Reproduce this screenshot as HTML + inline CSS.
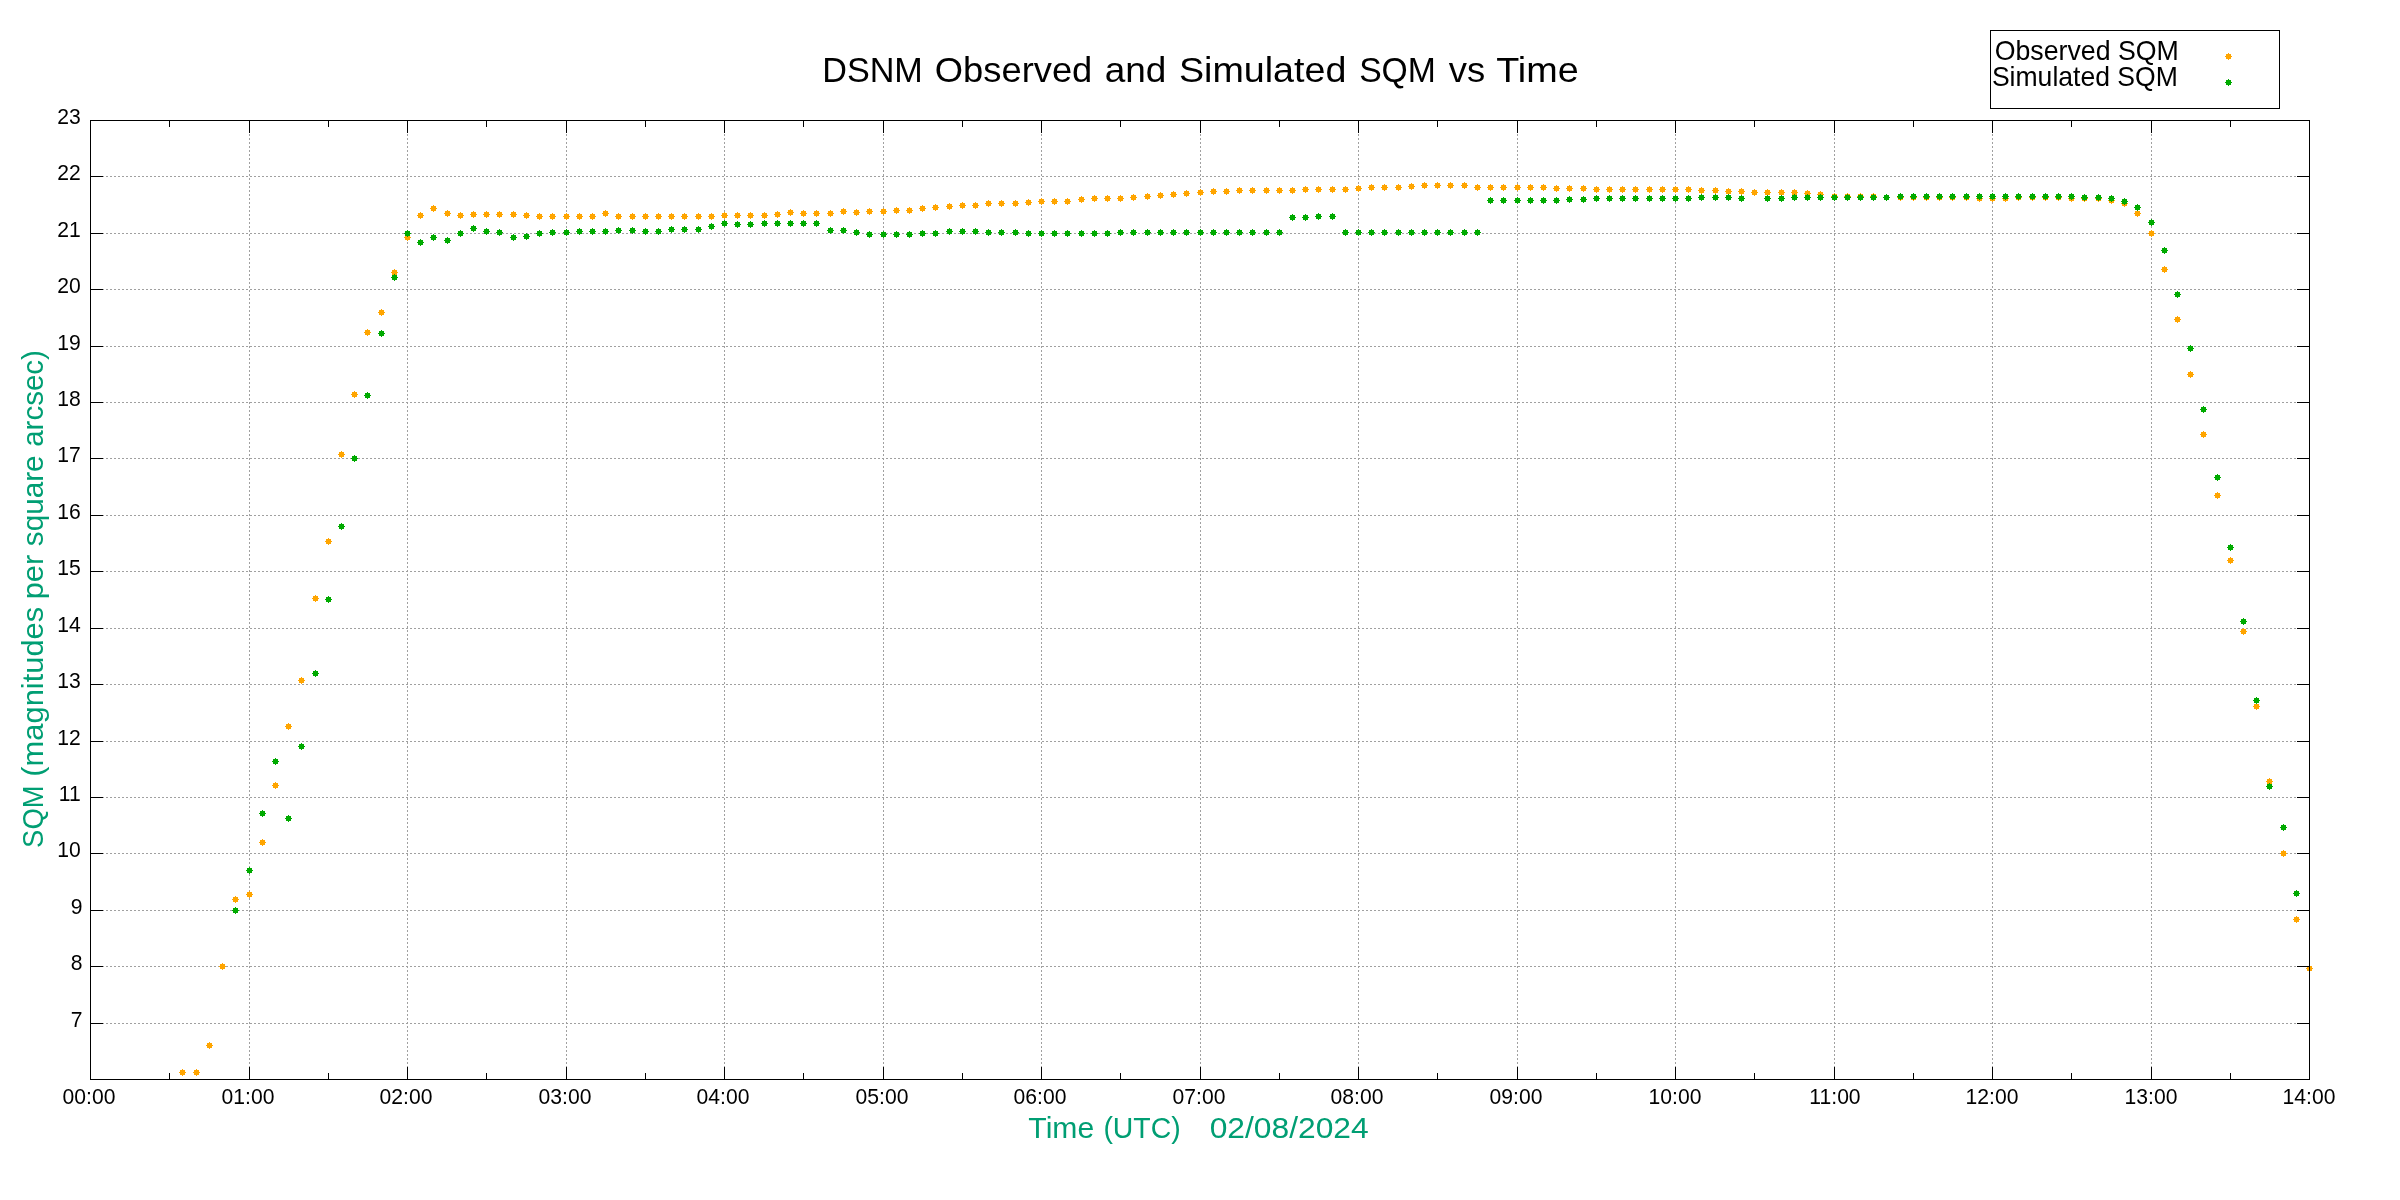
<!DOCTYPE html>
<html><head><meta charset="utf-8"><title>DSNM Observed and Simulated SQM vs Time</title>
<style>html,body{margin:0;padding:0;background:#fff;width:2400px;height:1200px;overflow:hidden}svg{display:block}text{font-family:"Liberation Sans",sans-serif}body>svg{will-change:transform}</style>
</head><body>
<svg width="2400" height="1200" viewBox="0 0 2400 1200">
<rect width="2400" height="1200" fill="#fff"/>
<g shape-rendering="crispEdges">
<path d="M90 1023.5H2310M90 966.5H2310M90 910.5H2310M90 853.5H2310M90 797.5H2310M90 741.5H2310M90 684.5H2310M90 628.5H2310M90 571.5H2310M90 515.5H2310M90 458.5H2310M90 402.5H2310M90 346.5H2310M90 289.5H2310M90 233.5H2310M90 176.5H2310" stroke="#a0a0a0" stroke-width="1" stroke-dasharray="2 2" fill="none"/>
<path d="M249.5 1080V120M407.5 1080V120M566.5 1080V120M724.5 1080V120M883.5 1080V120M1041.5 1080V120M1200.5 1080V120M1358.5 1080V120M1517.5 1080V120M1675.5 1080V120M1834.5 1080V120M1992.5 1080V120M2151.5 1080V120" stroke="#a0a0a0" stroke-width="1" stroke-dasharray="2 2" fill="none"/>
<path d="M1990 30H2280v1H1990zM1990 108H2280v1H1990zM1990 30h1V109h-1zM2279 30h1V109h-1z" fill="#000"/>
<path d="M180 1070h5v5h-5zM182 1069h1v7h-1zM179 1072h7v1h-7zM194 1070h5v5h-5zM196 1069h1v7h-1zM193 1072h7v1h-7zM207 1043h5v5h-5zM209 1042h1v7h-1zM206 1045h7v1h-7zM220 964h5v5h-5zM222 963h1v7h-1zM219 966h7v1h-7zM233 897h5v5h-5zM235 896h1v7h-1zM232 899h7v1h-7zM247 892h5v5h-5zM249 891h1v7h-1zM246 894h7v1h-7zM260 840h5v5h-5zM262 839h1v7h-1zM259 842h7v1h-7zM273 783h5v5h-5zM275 782h1v7h-1zM272 785h7v1h-7zM286 724h5v5h-5zM288 723h1v7h-1zM285 726h7v1h-7zM299 678h5v5h-5zM301 677h1v7h-1zM298 680h7v1h-7zM313 596h5v5h-5zM315 595h1v7h-1zM312 598h7v1h-7zM326 539h5v5h-5zM328 538h1v7h-1zM325 541h7v1h-7zM339 452h5v5h-5zM341 451h1v7h-1zM338 454h7v1h-7zM352 392h5v5h-5zM354 391h1v7h-1zM351 394h7v1h-7zM365 330h5v5h-5zM367 329h1v7h-1zM364 332h7v1h-7zM379 310h5v5h-5zM381 309h1v7h-1zM378 312h7v1h-7zM392 270h5v5h-5zM394 269h1v7h-1zM391 272h7v1h-7zM405 235h5v5h-5zM407 234h1v7h-1zM404 237h7v1h-7zM418 213h5v5h-5zM420 212h1v7h-1zM417 215h7v1h-7zM431 206h5v5h-5zM433 205h1v7h-1zM430 208h7v1h-7zM445 211h5v5h-5zM447 210h1v7h-1zM444 213h7v1h-7zM458 213h5v5h-5zM460 212h1v7h-1zM457 215h7v1h-7zM471 212h5v5h-5zM473 211h1v7h-1zM470 214h7v1h-7zM484 212h5v5h-5zM486 211h1v7h-1zM483 214h7v1h-7zM497 212h5v5h-5zM499 211h1v7h-1zM496 214h7v1h-7zM511 212h5v5h-5zM513 211h1v7h-1zM510 214h7v1h-7zM524 213h5v5h-5zM526 212h1v7h-1zM523 215h7v1h-7zM537 214h5v5h-5zM539 213h1v7h-1zM536 216h7v1h-7zM550 214h5v5h-5zM552 213h1v7h-1zM549 216h7v1h-7zM564 214h5v5h-5zM566 213h1v7h-1zM563 216h7v1h-7zM577 214h5v5h-5zM579 213h1v7h-1zM576 216h7v1h-7zM590 214h5v5h-5zM592 213h1v7h-1zM589 216h7v1h-7zM603 211h5v5h-5zM605 210h1v7h-1zM602 213h7v1h-7zM616 214h5v5h-5zM618 213h1v7h-1zM615 216h7v1h-7zM630 214h5v5h-5zM632 213h1v7h-1zM629 216h7v1h-7zM643 214h5v5h-5zM645 213h1v7h-1zM642 216h7v1h-7zM656 214h5v5h-5zM658 213h1v7h-1zM655 216h7v1h-7zM669 214h5v5h-5zM671 213h1v7h-1zM668 216h7v1h-7zM682 214h5v5h-5zM684 213h1v7h-1zM681 216h7v1h-7zM696 214h5v5h-5zM698 213h1v7h-1zM695 216h7v1h-7zM709 214h5v5h-5zM711 213h1v7h-1zM708 216h7v1h-7zM722 213h5v5h-5zM724 212h1v7h-1zM721 215h7v1h-7zM735 213h5v5h-5zM737 212h1v7h-1zM734 215h7v1h-7zM748 213h5v5h-5zM750 212h1v7h-1zM747 215h7v1h-7zM762 213h5v5h-5zM764 212h1v7h-1zM761 215h7v1h-7zM775 212h5v5h-5zM777 211h1v7h-1zM774 214h7v1h-7zM788 210h5v5h-5zM790 209h1v7h-1zM787 212h7v1h-7zM801 211h5v5h-5zM803 210h1v7h-1zM800 213h7v1h-7zM814 211h5v5h-5zM816 210h1v7h-1zM813 213h7v1h-7zM828 211h5v5h-5zM830 210h1v7h-1zM827 213h7v1h-7zM841 209h5v5h-5zM843 208h1v7h-1zM840 211h7v1h-7zM854 210h5v5h-5zM856 209h1v7h-1zM853 212h7v1h-7zM867 209h5v5h-5zM869 208h1v7h-1zM866 211h7v1h-7zM881 209h5v5h-5zM883 208h1v7h-1zM880 211h7v1h-7zM894 208h5v5h-5zM896 207h1v7h-1zM893 210h7v1h-7zM907 208h5v5h-5zM909 207h1v7h-1zM906 210h7v1h-7zM920 206h5v5h-5zM922 205h1v7h-1zM919 208h7v1h-7zM933 205h5v5h-5zM935 204h1v7h-1zM932 207h7v1h-7zM947 204h5v5h-5zM949 203h1v7h-1zM946 206h7v1h-7zM960 203h5v5h-5zM962 202h1v7h-1zM959 205h7v1h-7zM973 203h5v5h-5zM975 202h1v7h-1zM972 205h7v1h-7zM986 201h5v5h-5zM988 200h1v7h-1zM985 203h7v1h-7zM999 201h5v5h-5zM1001 200h1v7h-1zM998 203h7v1h-7zM1013 201h5v5h-5zM1015 200h1v7h-1zM1012 203h7v1h-7zM1026 200h5v5h-5zM1028 199h1v7h-1zM1025 202h7v1h-7zM1039 199h5v5h-5zM1041 198h1v7h-1zM1038 201h7v1h-7zM1052 199h5v5h-5zM1054 198h1v7h-1zM1051 201h7v1h-7zM1065 199h5v5h-5zM1067 198h1v7h-1zM1064 201h7v1h-7zM1079 197h5v5h-5zM1081 196h1v7h-1zM1078 199h7v1h-7zM1092 196h5v5h-5zM1094 195h1v7h-1zM1091 198h7v1h-7zM1105 196h5v5h-5zM1107 195h1v7h-1zM1104 198h7v1h-7zM1118 196h5v5h-5zM1120 195h1v7h-1zM1117 198h7v1h-7zM1131 195h5v5h-5zM1133 194h1v7h-1zM1130 197h7v1h-7zM1145 194h5v5h-5zM1147 193h1v7h-1zM1144 196h7v1h-7zM1158 193h5v5h-5zM1160 192h1v7h-1zM1157 195h7v1h-7zM1171 192h5v5h-5zM1173 191h1v7h-1zM1170 194h7v1h-7zM1184 191h5v5h-5zM1186 190h1v7h-1zM1183 193h7v1h-7zM1198 190h5v5h-5zM1200 189h1v7h-1zM1197 192h7v1h-7zM1211 189h5v5h-5zM1213 188h1v7h-1zM1210 191h7v1h-7zM1224 189h5v5h-5zM1226 188h1v7h-1zM1223 191h7v1h-7zM1237 188h5v5h-5zM1239 187h1v7h-1zM1236 190h7v1h-7zM1250 188h5v5h-5zM1252 187h1v7h-1zM1249 190h7v1h-7zM1264 188h5v5h-5zM1266 187h1v7h-1zM1263 190h7v1h-7zM1277 188h5v5h-5zM1279 187h1v7h-1zM1276 190h7v1h-7zM1290 188h5v5h-5zM1292 187h1v7h-1zM1289 190h7v1h-7zM1303 187h5v5h-5zM1305 186h1v7h-1zM1302 189h7v1h-7zM1316 187h5v5h-5zM1318 186h1v7h-1zM1315 189h7v1h-7zM1330 187h5v5h-5zM1332 186h1v7h-1zM1329 189h7v1h-7zM1343 187h5v5h-5zM1345 186h1v7h-1zM1342 189h7v1h-7zM1356 186h5v5h-5zM1358 185h1v7h-1zM1355 188h7v1h-7zM1369 185h5v5h-5zM1371 184h1v7h-1zM1368 187h7v1h-7zM1382 185h5v5h-5zM1384 184h1v7h-1zM1381 187h7v1h-7zM1396 185h5v5h-5zM1398 184h1v7h-1zM1395 187h7v1h-7zM1409 184h5v5h-5zM1411 183h1v7h-1zM1408 186h7v1h-7zM1422 183h5v5h-5zM1424 182h1v7h-1zM1421 185h7v1h-7zM1435 183h5v5h-5zM1437 182h1v7h-1zM1434 185h7v1h-7zM1448 183h5v5h-5zM1450 182h1v7h-1zM1447 185h7v1h-7zM1462 183h5v5h-5zM1464 182h1v7h-1zM1461 185h7v1h-7zM1475 185h5v5h-5zM1477 184h1v7h-1zM1474 187h7v1h-7zM1488 185h5v5h-5zM1490 184h1v7h-1zM1487 187h7v1h-7zM1501 185h5v5h-5zM1503 184h1v7h-1zM1500 187h7v1h-7zM1515 185h5v5h-5zM1517 184h1v7h-1zM1514 187h7v1h-7zM1528 185h5v5h-5zM1530 184h1v7h-1zM1527 187h7v1h-7zM1541 185h5v5h-5zM1543 184h1v7h-1zM1540 187h7v1h-7zM1554 186h5v5h-5zM1556 185h1v7h-1zM1553 188h7v1h-7zM1567 186h5v5h-5zM1569 185h1v7h-1zM1566 188h7v1h-7zM1581 186h5v5h-5zM1583 185h1v7h-1zM1580 188h7v1h-7zM1594 187h5v5h-5zM1596 186h1v7h-1zM1593 189h7v1h-7zM1607 187h5v5h-5zM1609 186h1v7h-1zM1606 189h7v1h-7zM1620 187h5v5h-5zM1622 186h1v7h-1zM1619 189h7v1h-7zM1633 187h5v5h-5zM1635 186h1v7h-1zM1632 189h7v1h-7zM1647 187h5v5h-5zM1649 186h1v7h-1zM1646 189h7v1h-7zM1660 187h5v5h-5zM1662 186h1v7h-1zM1659 189h7v1h-7zM1673 187h5v5h-5zM1675 186h1v7h-1zM1672 189h7v1h-7zM1686 187h5v5h-5zM1688 186h1v7h-1zM1685 189h7v1h-7zM1699 188h5v5h-5zM1701 187h1v7h-1zM1698 190h7v1h-7zM1713 188h5v5h-5zM1715 187h1v7h-1zM1712 190h7v1h-7zM1726 189h5v5h-5zM1728 188h1v7h-1zM1725 191h7v1h-7zM1739 189h5v5h-5zM1741 188h1v7h-1zM1738 191h7v1h-7zM1752 190h5v5h-5zM1754 189h1v7h-1zM1751 192h7v1h-7zM1765 190h5v5h-5zM1767 189h1v7h-1zM1764 192h7v1h-7zM1779 190h5v5h-5zM1781 189h1v7h-1zM1778 192h7v1h-7zM1792 190h5v5h-5zM1794 189h1v7h-1zM1791 192h7v1h-7zM1805 191h5v5h-5zM1807 190h1v7h-1zM1804 193h7v1h-7zM1818 192h5v5h-5zM1820 191h1v7h-1zM1817 194h7v1h-7zM1832 194h5v5h-5zM1834 193h1v7h-1zM1831 196h7v1h-7zM1845 194h5v5h-5zM1847 193h1v7h-1zM1844 196h7v1h-7zM1858 194h5v5h-5zM1860 193h1v7h-1zM1857 196h7v1h-7zM1871 194h5v5h-5zM1873 193h1v7h-1zM1870 196h7v1h-7zM1884 195h5v5h-5zM1886 194h1v7h-1zM1883 197h7v1h-7zM1898 195h5v5h-5zM1900 194h1v7h-1zM1897 197h7v1h-7zM1911 195h5v5h-5zM1913 194h1v7h-1zM1910 197h7v1h-7zM1924 195h5v5h-5zM1926 194h1v7h-1zM1923 197h7v1h-7zM1937 195h5v5h-5zM1939 194h1v7h-1zM1936 197h7v1h-7zM1950 195h5v5h-5zM1952 194h1v7h-1zM1949 197h7v1h-7zM1964 195h5v5h-5zM1966 194h1v7h-1zM1963 197h7v1h-7zM1977 196h5v5h-5zM1979 195h1v7h-1zM1976 198h7v1h-7zM1990 196h5v5h-5zM1992 195h1v7h-1zM1989 198h7v1h-7zM2003 196h5v5h-5zM2005 195h1v7h-1zM2002 198h7v1h-7zM2016 195h5v5h-5zM2018 194h1v7h-1zM2015 197h7v1h-7zM2030 195h5v5h-5zM2032 194h1v7h-1zM2029 197h7v1h-7zM2043 195h5v5h-5zM2045 194h1v7h-1zM2042 197h7v1h-7zM2056 195h5v5h-5zM2058 194h1v7h-1zM2055 197h7v1h-7zM2069 196h5v5h-5zM2071 195h1v7h-1zM2068 198h7v1h-7zM2082 196h5v5h-5zM2084 195h1v7h-1zM2081 198h7v1h-7zM2096 196h5v5h-5zM2098 195h1v7h-1zM2095 198h7v1h-7zM2109 198h5v5h-5zM2111 197h1v7h-1zM2108 200h7v1h-7zM2122 201h5v5h-5zM2124 200h1v7h-1zM2121 203h7v1h-7zM2135 211h5v5h-5zM2137 210h1v7h-1zM2134 213h7v1h-7zM2149 231h5v5h-5zM2151 230h1v7h-1zM2148 233h7v1h-7zM2162 267h5v5h-5zM2164 266h1v7h-1zM2161 269h7v1h-7zM2175 317h5v5h-5zM2177 316h1v7h-1zM2174 319h7v1h-7zM2188 372h5v5h-5zM2190 371h1v7h-1zM2187 374h7v1h-7zM2201 432h5v5h-5zM2203 431h1v7h-1zM2200 434h7v1h-7zM2215 493h5v5h-5zM2217 492h1v7h-1zM2214 495h7v1h-7zM2228 558h5v5h-5zM2230 557h1v7h-1zM2227 560h7v1h-7zM2241 629h5v5h-5zM2243 628h1v7h-1zM2240 631h7v1h-7zM2254 704h5v5h-5zM2256 703h1v7h-1zM2253 706h7v1h-7zM2267 779h5v5h-5zM2269 778h1v7h-1zM2266 781h7v1h-7zM2281 851h5v5h-5zM2283 850h1v7h-1zM2280 853h7v1h-7zM2294 917h5v5h-5zM2296 916h1v7h-1zM2293 919h7v1h-7zM2307 966h5v5h-5zM2309 965h1v7h-1zM2306 968h7v1h-7z" fill="#ffa500"/>
<path d="M233 908h5v5h-5zM235 907h1v7h-1zM232 910h7v1h-7zM247 868h5v5h-5zM249 867h1v7h-1zM246 870h7v1h-7zM260 811h5v5h-5zM262 810h1v7h-1zM259 813h7v1h-7zM273 759h5v5h-5zM275 758h1v7h-1zM272 761h7v1h-7zM286 816h5v5h-5zM288 815h1v7h-1zM285 818h7v1h-7zM299 744h5v5h-5zM301 743h1v7h-1zM298 746h7v1h-7zM313 671h5v5h-5zM315 670h1v7h-1zM312 673h7v1h-7zM326 597h5v5h-5zM328 596h1v7h-1zM325 599h7v1h-7zM339 524h5v5h-5zM341 523h1v7h-1zM338 526h7v1h-7zM352 456h5v5h-5zM354 455h1v7h-1zM351 458h7v1h-7zM365 393h5v5h-5zM367 392h1v7h-1zM364 395h7v1h-7zM379 331h5v5h-5zM381 330h1v7h-1zM378 333h7v1h-7zM392 275h5v5h-5zM394 274h1v7h-1zM391 277h7v1h-7zM405 231h5v5h-5zM407 230h1v7h-1zM404 233h7v1h-7zM418 240h5v5h-5zM420 239h1v7h-1zM417 242h7v1h-7zM431 235h5v5h-5zM433 234h1v7h-1zM430 237h7v1h-7zM445 238h5v5h-5zM447 237h1v7h-1zM444 240h7v1h-7zM458 231h5v5h-5zM460 230h1v7h-1zM457 233h7v1h-7zM471 226h5v5h-5zM473 225h1v7h-1zM470 228h7v1h-7zM484 229h5v5h-5zM486 228h1v7h-1zM483 231h7v1h-7zM497 230h5v5h-5zM499 229h1v7h-1zM496 232h7v1h-7zM511 235h5v5h-5zM513 234h1v7h-1zM510 237h7v1h-7zM524 234h5v5h-5zM526 233h1v7h-1zM523 236h7v1h-7zM537 231h5v5h-5zM539 230h1v7h-1zM536 233h7v1h-7zM550 230h5v5h-5zM552 229h1v7h-1zM549 232h7v1h-7zM564 230h5v5h-5zM566 229h1v7h-1zM563 232h7v1h-7zM577 229h5v5h-5zM579 228h1v7h-1zM576 231h7v1h-7zM590 229h5v5h-5zM592 228h1v7h-1zM589 231h7v1h-7zM603 229h5v5h-5zM605 228h1v7h-1zM602 231h7v1h-7zM616 228h5v5h-5zM618 227h1v7h-1zM615 230h7v1h-7zM630 228h5v5h-5zM632 227h1v7h-1zM629 230h7v1h-7zM643 229h5v5h-5zM645 228h1v7h-1zM642 231h7v1h-7zM656 229h5v5h-5zM658 228h1v7h-1zM655 231h7v1h-7zM669 227h5v5h-5zM671 226h1v7h-1zM668 229h7v1h-7zM682 227h5v5h-5zM684 226h1v7h-1zM681 229h7v1h-7zM696 227h5v5h-5zM698 226h1v7h-1zM695 229h7v1h-7zM709 224h5v5h-5zM711 223h1v7h-1zM708 226h7v1h-7zM722 221h5v5h-5zM724 220h1v7h-1zM721 223h7v1h-7zM735 222h5v5h-5zM737 221h1v7h-1zM734 224h7v1h-7zM748 222h5v5h-5zM750 221h1v7h-1zM747 224h7v1h-7zM762 221h5v5h-5zM764 220h1v7h-1zM761 223h7v1h-7zM775 221h5v5h-5zM777 220h1v7h-1zM774 223h7v1h-7zM788 221h5v5h-5zM790 220h1v7h-1zM787 223h7v1h-7zM801 221h5v5h-5zM803 220h1v7h-1zM800 223h7v1h-7zM814 221h5v5h-5zM816 220h1v7h-1zM813 223h7v1h-7zM828 228h5v5h-5zM830 227h1v7h-1zM827 230h7v1h-7zM841 228h5v5h-5zM843 227h1v7h-1zM840 230h7v1h-7zM854 230h5v5h-5zM856 229h1v7h-1zM853 232h7v1h-7zM867 232h5v5h-5zM869 231h1v7h-1zM866 234h7v1h-7zM881 232h5v5h-5zM883 231h1v7h-1zM880 234h7v1h-7zM894 232h5v5h-5zM896 231h1v7h-1zM893 234h7v1h-7zM907 232h5v5h-5zM909 231h1v7h-1zM906 234h7v1h-7zM920 231h5v5h-5zM922 230h1v7h-1zM919 233h7v1h-7zM933 231h5v5h-5zM935 230h1v7h-1zM932 233h7v1h-7zM947 229h5v5h-5zM949 228h1v7h-1zM946 231h7v1h-7zM960 229h5v5h-5zM962 228h1v7h-1zM959 231h7v1h-7zM973 229h5v5h-5zM975 228h1v7h-1zM972 231h7v1h-7zM986 230h5v5h-5zM988 229h1v7h-1zM985 232h7v1h-7zM999 230h5v5h-5zM1001 229h1v7h-1zM998 232h7v1h-7zM1013 230h5v5h-5zM1015 229h1v7h-1zM1012 232h7v1h-7zM1026 231h5v5h-5zM1028 230h1v7h-1zM1025 233h7v1h-7zM1039 231h5v5h-5zM1041 230h1v7h-1zM1038 233h7v1h-7zM1052 231h5v5h-5zM1054 230h1v7h-1zM1051 233h7v1h-7zM1065 231h5v5h-5zM1067 230h1v7h-1zM1064 233h7v1h-7zM1079 231h5v5h-5zM1081 230h1v7h-1zM1078 233h7v1h-7zM1092 231h5v5h-5zM1094 230h1v7h-1zM1091 233h7v1h-7zM1105 231h5v5h-5zM1107 230h1v7h-1zM1104 233h7v1h-7zM1118 230h5v5h-5zM1120 229h1v7h-1zM1117 232h7v1h-7zM1131 230h5v5h-5zM1133 229h1v7h-1zM1130 232h7v1h-7zM1145 230h5v5h-5zM1147 229h1v7h-1zM1144 232h7v1h-7zM1158 230h5v5h-5zM1160 229h1v7h-1zM1157 232h7v1h-7zM1171 230h5v5h-5zM1173 229h1v7h-1zM1170 232h7v1h-7zM1184 230h5v5h-5zM1186 229h1v7h-1zM1183 232h7v1h-7zM1198 230h5v5h-5zM1200 229h1v7h-1zM1197 232h7v1h-7zM1211 230h5v5h-5zM1213 229h1v7h-1zM1210 232h7v1h-7zM1224 230h5v5h-5zM1226 229h1v7h-1zM1223 232h7v1h-7zM1237 230h5v5h-5zM1239 229h1v7h-1zM1236 232h7v1h-7zM1250 230h5v5h-5zM1252 229h1v7h-1zM1249 232h7v1h-7zM1264 230h5v5h-5zM1266 229h1v7h-1zM1263 232h7v1h-7zM1277 230h5v5h-5zM1279 229h1v7h-1zM1276 232h7v1h-7zM1290 215h5v5h-5zM1292 214h1v7h-1zM1289 217h7v1h-7zM1303 215h5v5h-5zM1305 214h1v7h-1zM1302 217h7v1h-7zM1316 214h5v5h-5zM1318 213h1v7h-1zM1315 216h7v1h-7zM1330 214h5v5h-5zM1332 213h1v7h-1zM1329 216h7v1h-7zM1343 230h5v5h-5zM1345 229h1v7h-1zM1342 232h7v1h-7zM1356 230h5v5h-5zM1358 229h1v7h-1zM1355 232h7v1h-7zM1369 230h5v5h-5zM1371 229h1v7h-1zM1368 232h7v1h-7zM1382 230h5v5h-5zM1384 229h1v7h-1zM1381 232h7v1h-7zM1396 230h5v5h-5zM1398 229h1v7h-1zM1395 232h7v1h-7zM1409 230h5v5h-5zM1411 229h1v7h-1zM1408 232h7v1h-7zM1422 230h5v5h-5zM1424 229h1v7h-1zM1421 232h7v1h-7zM1435 230h5v5h-5zM1437 229h1v7h-1zM1434 232h7v1h-7zM1448 230h5v5h-5zM1450 229h1v7h-1zM1447 232h7v1h-7zM1462 230h5v5h-5zM1464 229h1v7h-1zM1461 232h7v1h-7zM1475 230h5v5h-5zM1477 229h1v7h-1zM1474 232h7v1h-7zM1488 198h5v5h-5zM1490 197h1v7h-1zM1487 200h7v1h-7zM1501 198h5v5h-5zM1503 197h1v7h-1zM1500 200h7v1h-7zM1515 198h5v5h-5zM1517 197h1v7h-1zM1514 200h7v1h-7zM1528 198h5v5h-5zM1530 197h1v7h-1zM1527 200h7v1h-7zM1541 198h5v5h-5zM1543 197h1v7h-1zM1540 200h7v1h-7zM1554 198h5v5h-5zM1556 197h1v7h-1zM1553 200h7v1h-7zM1567 197h5v5h-5zM1569 196h1v7h-1zM1566 199h7v1h-7zM1581 197h5v5h-5zM1583 196h1v7h-1zM1580 199h7v1h-7zM1594 196h5v5h-5zM1596 195h1v7h-1zM1593 198h7v1h-7zM1607 196h5v5h-5zM1609 195h1v7h-1zM1606 198h7v1h-7zM1620 196h5v5h-5zM1622 195h1v7h-1zM1619 198h7v1h-7zM1633 196h5v5h-5zM1635 195h1v7h-1zM1632 198h7v1h-7zM1647 196h5v5h-5zM1649 195h1v7h-1zM1646 198h7v1h-7zM1660 196h5v5h-5zM1662 195h1v7h-1zM1659 198h7v1h-7zM1673 196h5v5h-5zM1675 195h1v7h-1zM1672 198h7v1h-7zM1686 196h5v5h-5zM1688 195h1v7h-1zM1685 198h7v1h-7zM1699 195h5v5h-5zM1701 194h1v7h-1zM1698 197h7v1h-7zM1713 195h5v5h-5zM1715 194h1v7h-1zM1712 197h7v1h-7zM1726 195h5v5h-5zM1728 194h1v7h-1zM1725 197h7v1h-7zM1739 196h5v5h-5zM1741 195h1v7h-1zM1738 198h7v1h-7zM1765 196h5v5h-5zM1767 195h1v7h-1zM1764 198h7v1h-7zM1779 196h5v5h-5zM1781 195h1v7h-1zM1778 198h7v1h-7zM1792 195h5v5h-5zM1794 194h1v7h-1zM1791 197h7v1h-7zM1805 195h5v5h-5zM1807 194h1v7h-1zM1804 197h7v1h-7zM1818 195h5v5h-5zM1820 194h1v7h-1zM1817 197h7v1h-7zM1832 195h5v5h-5zM1834 194h1v7h-1zM1831 197h7v1h-7zM1845 195h5v5h-5zM1847 194h1v7h-1zM1844 197h7v1h-7zM1858 195h5v5h-5zM1860 194h1v7h-1zM1857 197h7v1h-7zM1871 195h5v5h-5zM1873 194h1v7h-1zM1870 197h7v1h-7zM1884 195h5v5h-5zM1886 194h1v7h-1zM1883 197h7v1h-7zM1898 194h5v5h-5zM1900 193h1v7h-1zM1897 196h7v1h-7zM1911 194h5v5h-5zM1913 193h1v7h-1zM1910 196h7v1h-7zM1924 194h5v5h-5zM1926 193h1v7h-1zM1923 196h7v1h-7zM1937 194h5v5h-5zM1939 193h1v7h-1zM1936 196h7v1h-7zM1950 194h5v5h-5zM1952 193h1v7h-1zM1949 196h7v1h-7zM1964 194h5v5h-5zM1966 193h1v7h-1zM1963 196h7v1h-7zM1977 194h5v5h-5zM1979 193h1v7h-1zM1976 196h7v1h-7zM1990 194h5v5h-5zM1992 193h1v7h-1zM1989 196h7v1h-7zM2003 194h5v5h-5zM2005 193h1v7h-1zM2002 196h7v1h-7zM2016 194h5v5h-5zM2018 193h1v7h-1zM2015 196h7v1h-7zM2030 194h5v5h-5zM2032 193h1v7h-1zM2029 196h7v1h-7zM2043 194h5v5h-5zM2045 193h1v7h-1zM2042 196h7v1h-7zM2056 194h5v5h-5zM2058 193h1v7h-1zM2055 196h7v1h-7zM2069 194h5v5h-5zM2071 193h1v7h-1zM2068 196h7v1h-7zM2082 195h5v5h-5zM2084 194h1v7h-1zM2081 197h7v1h-7zM2096 195h5v5h-5zM2098 194h1v7h-1zM2095 197h7v1h-7zM2109 196h5v5h-5zM2111 195h1v7h-1zM2108 198h7v1h-7zM2122 199h5v5h-5zM2124 198h1v7h-1zM2121 201h7v1h-7zM2135 205h5v5h-5zM2137 204h1v7h-1zM2134 207h7v1h-7zM2149 220h5v5h-5zM2151 219h1v7h-1zM2148 222h7v1h-7zM2162 248h5v5h-5zM2164 247h1v7h-1zM2161 250h7v1h-7zM2175 292h5v5h-5zM2177 291h1v7h-1zM2174 294h7v1h-7zM2188 346h5v5h-5zM2190 345h1v7h-1zM2187 348h7v1h-7zM2201 407h5v5h-5zM2203 406h1v7h-1zM2200 409h7v1h-7zM2215 475h5v5h-5zM2217 474h1v7h-1zM2214 477h7v1h-7zM2228 545h5v5h-5zM2230 544h1v7h-1zM2227 547h7v1h-7zM2241 619h5v5h-5zM2243 618h1v7h-1zM2240 621h7v1h-7zM2254 698h5v5h-5zM2256 697h1v7h-1zM2253 700h7v1h-7zM2267 784h5v5h-5zM2269 783h1v7h-1zM2266 786h7v1h-7zM2281 825h5v5h-5zM2283 824h1v7h-1zM2280 827h7v1h-7zM2294 891h5v5h-5zM2296 890h1v7h-1zM2293 893h7v1h-7z" fill="#00aa00"/>
<path d="M2226 54h5v5h-5zM2228 53h1v7h-1zM2225 56h7v1h-7z" fill="#ffa500"/>
<path d="M2226 80h5v5h-5zM2228 79h1v7h-1zM2225 82h7v1h-7z" fill="#00aa00"/>
<path d="M90 1023h13v1h-13zM2297 1023h13v1h-13zM90 966h13v1h-13zM2297 966h13v1h-13zM90 910h13v1h-13zM2297 910h13v1h-13zM90 853h13v1h-13zM2297 853h13v1h-13zM90 797h13v1h-13zM2297 797h13v1h-13zM90 741h13v1h-13zM2297 741h13v1h-13zM90 684h13v1h-13zM2297 684h13v1h-13zM90 628h13v1h-13zM2297 628h13v1h-13zM90 571h13v1h-13zM2297 571h13v1h-13zM90 515h13v1h-13zM2297 515h13v1h-13zM90 458h13v1h-13zM2297 458h13v1h-13zM90 402h13v1h-13zM2297 402h13v1h-13zM90 346h13v1h-13zM2297 346h13v1h-13zM90 289h13v1h-13zM2297 289h13v1h-13zM90 233h13v1h-13zM2297 233h13v1h-13zM90 176h13v1h-13zM2297 176h13v1h-13zM249 1067h1v13h-1zM249 120h1v13h-1zM407 1067h1v13h-1zM407 120h1v13h-1zM566 1067h1v13h-1zM566 120h1v13h-1zM724 1067h1v13h-1zM724 120h1v13h-1zM883 1067h1v13h-1zM883 120h1v13h-1zM1041 1067h1v13h-1zM1041 120h1v13h-1zM1200 1067h1v13h-1zM1200 120h1v13h-1zM1358 1067h1v13h-1zM1358 120h1v13h-1zM1517 1067h1v13h-1zM1517 120h1v13h-1zM1675 1067h1v13h-1zM1675 120h1v13h-1zM1834 1067h1v13h-1zM1834 120h1v13h-1zM1992 1067h1v13h-1zM1992 120h1v13h-1zM2151 1067h1v13h-1zM2151 120h1v13h-1zM169 1073h1v7h-1zM169 120h1v7h-1zM328 1073h1v7h-1zM328 120h1v7h-1zM486 1073h1v7h-1zM486 120h1v7h-1zM645 1073h1v7h-1zM645 120h1v7h-1zM803 1073h1v7h-1zM803 120h1v7h-1zM962 1073h1v7h-1zM962 120h1v7h-1zM1120 1073h1v7h-1zM1120 120h1v7h-1zM1279 1073h1v7h-1zM1279 120h1v7h-1zM1437 1073h1v7h-1zM1437 120h1v7h-1zM1596 1073h1v7h-1zM1596 120h1v7h-1zM1754 1073h1v7h-1zM1754 120h1v7h-1zM1913 1073h1v7h-1zM1913 120h1v7h-1zM2071 1073h1v7h-1zM2071 120h1v7h-1zM2230 1073h1v7h-1zM2230 120h1v7h-1z" fill="#000"/>
<path d="M90 120H2310v1H90zM90 1079H2310v1H90zM90 120h1V1080h-1zM2309 120h1V1080h-1z" fill="#000"/>
</g>
<g font-family="Liberation Sans, sans-serif" fill="#000" >
<text x="822.19" y="82" font-size="35" fill="#000" textLength="100.67" lengthAdjust="spacingAndGlyphs">DSNM</text>
<text x="934.81" y="82" font-size="35" fill="#000" textLength="157.51" lengthAdjust="spacingAndGlyphs">Observed</text>
<text x="1104.72" y="82" font-size="35" fill="#000" textLength="61.68" lengthAdjust="spacingAndGlyphs">and</text>
<text x="1178.95" y="82" font-size="35" fill="#000" textLength="167.48" lengthAdjust="spacingAndGlyphs">Simulated</text>
<text x="1359.13" y="82" font-size="35" fill="#000" textLength="76.81" lengthAdjust="spacingAndGlyphs">SQM</text>
<text x="1448.87" y="82" font-size="35" fill="#000" textLength="36.43" lengthAdjust="spacingAndGlyphs">vs</text>
<text x="1496.19" y="82" font-size="35" fill="#000" textLength="82.54" lengthAdjust="spacingAndGlyphs">Time</text>
<text x="1994.69" y="60" font-size="28" fill="#000" textLength="184.13" lengthAdjust="spacingAndGlyphs">Observed SQM</text>
<text x="1991.91" y="86" font-size="28" fill="#000" textLength="185.88" lengthAdjust="spacingAndGlyphs">Simulated SQM</text>
<text x="1028.35" y="1138" font-size="29" fill="#009e73" textLength="65.84" lengthAdjust="spacingAndGlyphs">Time</text>
<text x="1103.38" y="1138" font-size="29" fill="#009e73" textLength="77.37" lengthAdjust="spacingAndGlyphs">(UTC)</text>
<text x="1209.67" y="1138" font-size="29" fill="#009e73" textLength="159.01" lengthAdjust="spacingAndGlyphs">02/08/2024</text>
<text transform="translate(43 847.90) rotate(-90)" font-size="29" fill="#009e73" textLength="62.50" lengthAdjust="spacingAndGlyphs">SQM</text>
<text transform="translate(43 776.66) rotate(-90)" font-size="29" fill="#009e73" textLength="169.82" lengthAdjust="spacingAndGlyphs">(magnitudes</text>
<text transform="translate(43 599.29) rotate(-90)" font-size="29" fill="#009e73" textLength="44.57" lengthAdjust="spacingAndGlyphs">per</text>
<text transform="translate(43 546.20) rotate(-90)" font-size="29" fill="#009e73" textLength="90.82" lengthAdjust="spacingAndGlyphs">square</text>
<text transform="translate(43 446.77) rotate(-90)" font-size="29" fill="#009e73" textLength="96.62" lengthAdjust="spacingAndGlyphs">arcsec)</text>
<text x="82.5" y="1027" text-anchor="end" font-size="22" transform="translate(82.5 0) scale(0.96 1) translate(-82.5 0)">7</text>
<text x="82.5" y="970" text-anchor="end" font-size="22" transform="translate(82.5 0) scale(0.96 1) translate(-82.5 0)">8</text>
<text x="82.5" y="914" text-anchor="end" font-size="22" transform="translate(82.5 0) scale(0.96 1) translate(-82.5 0)">9</text>
<text x="80.8" y="857" text-anchor="end" font-size="22" transform="translate(80.8 0) scale(0.96 1) translate(-80.8 0)">10</text>
<text x="80.8" y="801" text-anchor="end" font-size="22" transform="translate(80.8 0) scale(0.96 1) translate(-80.8 0)">11</text>
<text x="80.8" y="745" text-anchor="end" font-size="22" transform="translate(80.8 0) scale(0.96 1) translate(-80.8 0)">12</text>
<text x="80.8" y="688" text-anchor="end" font-size="22" transform="translate(80.8 0) scale(0.96 1) translate(-80.8 0)">13</text>
<text x="80.8" y="632" text-anchor="end" font-size="22" transform="translate(80.8 0) scale(0.96 1) translate(-80.8 0)">14</text>
<text x="80.8" y="575" text-anchor="end" font-size="22" transform="translate(80.8 0) scale(0.96 1) translate(-80.8 0)">15</text>
<text x="80.8" y="519" text-anchor="end" font-size="22" transform="translate(80.8 0) scale(0.96 1) translate(-80.8 0)">16</text>
<text x="80.8" y="462" text-anchor="end" font-size="22" transform="translate(80.8 0) scale(0.96 1) translate(-80.8 0)">17</text>
<text x="80.8" y="406" text-anchor="end" font-size="22" transform="translate(80.8 0) scale(0.96 1) translate(-80.8 0)">18</text>
<text x="80.8" y="350" text-anchor="end" font-size="22" transform="translate(80.8 0) scale(0.96 1) translate(-80.8 0)">19</text>
<text x="80.8" y="293" text-anchor="end" font-size="22" transform="translate(80.8 0) scale(0.96 1) translate(-80.8 0)">20</text>
<text x="80.8" y="237" text-anchor="end" font-size="22" transform="translate(80.8 0) scale(0.96 1) translate(-80.8 0)">21</text>
<text x="80.8" y="180" text-anchor="end" font-size="22" transform="translate(80.8 0) scale(0.96 1) translate(-80.8 0)">22</text>
<text x="80.8" y="124" text-anchor="end" font-size="22" transform="translate(80.8 0) scale(0.96 1) translate(-80.8 0)">23</text>
<text x="89.00" y="1104" text-anchor="middle" font-size="22" transform="translate(89.00 0) scale(0.96 1) translate(-89.00 0)">00:00</text>
<text x="248.00" y="1104" text-anchor="middle" font-size="22" transform="translate(248.00 0) scale(0.96 1) translate(-248.00 0)">01:00</text>
<text x="406.00" y="1104" text-anchor="middle" font-size="22" transform="translate(406.00 0) scale(0.96 1) translate(-406.00 0)">02:00</text>
<text x="565.00" y="1104" text-anchor="middle" font-size="22" transform="translate(565.00 0) scale(0.96 1) translate(-565.00 0)">03:00</text>
<text x="723.00" y="1104" text-anchor="middle" font-size="22" transform="translate(723.00 0) scale(0.96 1) translate(-723.00 0)">04:00</text>
<text x="882.00" y="1104" text-anchor="middle" font-size="22" transform="translate(882.00 0) scale(0.96 1) translate(-882.00 0)">05:00</text>
<text x="1040.00" y="1104" text-anchor="middle" font-size="22" transform="translate(1040.00 0) scale(0.96 1) translate(-1040.00 0)">06:00</text>
<text x="1199.00" y="1104" text-anchor="middle" font-size="22" transform="translate(1199.00 0) scale(0.96 1) translate(-1199.00 0)">07:00</text>
<text x="1357.00" y="1104" text-anchor="middle" font-size="22" transform="translate(1357.00 0) scale(0.96 1) translate(-1357.00 0)">08:00</text>
<text x="1516.00" y="1104" text-anchor="middle" font-size="22" transform="translate(1516.00 0) scale(0.96 1) translate(-1516.00 0)">09:00</text>
<text x="1675.00" y="1104" text-anchor="middle" font-size="22" transform="translate(1675.00 0) scale(0.96 1) translate(-1675.00 0)">10:00</text>
<text x="1835.00" y="1104" text-anchor="middle" font-size="22" transform="translate(1835.00 0) scale(0.96 1) translate(-1835.00 0)">11:00</text>
<text x="1992.00" y="1104" text-anchor="middle" font-size="22" transform="translate(1992.00 0) scale(0.96 1) translate(-1992.00 0)">12:00</text>
<text x="2151.00" y="1104" text-anchor="middle" font-size="22" transform="translate(2151.00 0) scale(0.96 1) translate(-2151.00 0)">13:00</text>
<text x="2309.00" y="1104" text-anchor="middle" font-size="22" transform="translate(2309.00 0) scale(0.96 1) translate(-2309.00 0)">14:00</text>
</g>
</svg>
</body></html>
